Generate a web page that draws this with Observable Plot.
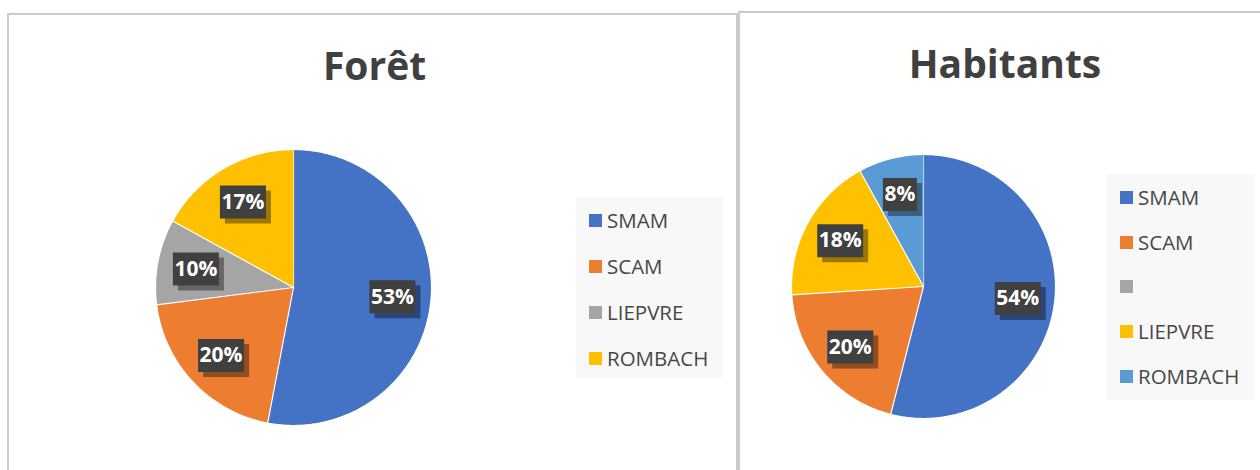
<!DOCTYPE html>
<html><head><meta charset="utf-8">
<script src="https://cdn.jsdelivr.net/npm/d3@7"></script>
<script src="https://cdn.jsdelivr.net/npm/@observablehq/plot@0.6"></script>
<style>
html,body{margin:0;padding:0;background:#fff;}
#page{position:relative;width:1260px;height:470px;overflow:hidden;font-family:"Open Sans",sans-serif;}
.panel{position:absolute;border:2px solid #cbcbcb;border-bottom:none;background:#fff;box-sizing:border-box;}
.title{position:absolute;font-weight:700;font-size:39px;line-height:39px;color:#404040;text-align:center;white-space:nowrap;width:400px;}
.pie{position:absolute;}
.legend{position:absolute;background:#f8f8f8;box-sizing:border-box;}
.item{display:flex;align-items:center;font-size:20.5px;color:#474747;white-space:nowrap;}
.sw{width:13px;height:13px;margin-left:13px;margin-right:5px;flex:none;}
</style></head><body><div id="page"></div>
<script>
// ---- data ----
const forestTitle = "Forêt";
const forestCategories = ["SMAM", "SCAM", "LIEPVRE", "ROMBACH"];
const forestValues = [53, 20, 10, 17];
const forestColors = ["#4472C4", "#ED7D31", "#A5A5A5", "#FFC000"];

const habitantsTitle = "Habitants";
const habitantsCategories = ["SMAM", "SCAM", "", "LIEPVRE", "ROMBACH"];
const habitantsValues = [54, 20, 0, 18, 8];
const habitantsColors = ["#4472C4", "#ED7D31", "#A5A5A5", "#FFC000", "#5B9BD5"];

// ---- layout ----
const page = document.getElementById("page");
const panels = [
  {left: 7, top: 13, width: 731, height: 480},
  {left: 738, top: 11, width: 560, height: 480}
];
for (const p of panels) {
  const d = document.createElement("div");
  d.className = "panel";
  Object.assign(d.style, {left: p.left + "px", top: p.top + "px", width: p.width + "px", height: p.height + "px"});
  page.appendChild(d);
}

const charts = [
  {title: forestTitle, categories: forestCategories, values: forestValues, colors: forestColors,
   cx: 292.5, cy: 287, r: 138, titleX: 374.5, titleTop: 44.5,
   legend: {left: 576, top: 197, width: 147, height: 181, step: 46, pad: 0}},
  {title: habitantsTitle, categories: habitantsCategories, values: habitantsValues, colors: habitantsColors,
   cx: 923, cy: 286, r: 132, titleX: 1005, titleTop: 42.5,
   legend: {left: 1107, top: 174, width: 147, height: 226, step: 44.7, pad: 1}}
];

function boxSymbol(w, h) {
  return {draw(ctx) {
    ctx.moveTo(-w / 2, -h / 2); ctx.lineTo(w / 2, -h / 2);
    ctx.lineTo(w / 2, h / 2); ctx.lineTo(-w / 2, h / 2); ctx.closePath();
  }};
}

for (const c of charts) {
  // title
  const t = document.createElement("div");
  t.className = "title";
  t.textContent = c.title;
  t.style.left = (c.titleX - 200) + "px";
  t.style.top = c.titleTop + "px";
  page.appendChild(t);

  const rows = c.categories.map((category, i) => ({category, value: c.values[i]}));
  const arcs = d3.pie().sort(null).value(d => d.value)(rows).filter(a => a.data.value > 0);
  const pts = arcs.flatMap(a => {
    const n = Math.max(4, Math.ceil((a.endAngle - a.startAngle) / 0.01));
    const arr = [{category: a.data.category, x: 0, y: 0}];
    for (let k = 0; k <= n; k++) {
      const ang = a.startAngle + (a.endAngle - a.startAngle) * k / n;
      arr.push({category: a.data.category, x: Math.sin(ang), y: Math.cos(ang)});
    }
    return arr;
  });
  const labels = arcs.map(a => {
    const m = (a.startAngle + a.endAngle) / 2;
    return {category: a.data.category, label: `${a.data.value}%`, x: 0.72 * Math.sin(m), y: 0.72 * Math.cos(m)};
  });
  const lengths = [...new Set(labels.map(d => d.label.length))];
  const m = 12;
  const size = 2 * c.r + 2 * m;
  const boxMarks = lengths.flatMap(n => {
    const sym = boxSymbol(12 * n + 10, 33);
    const sub = labels.filter(d => d.label.length === n);
    return [
      Plot.dot(sub, {x: "x", y: "y", symbol: sym, r: 10, fill: "black", fillOpacity: 0.38, stroke: "none", dx: 5, dy: 5}),
      Plot.dot(sub, {x: "x", y: "y", symbol: sym, r: 10, fill: "#404040", stroke: "none"})
    ];
  });
  const plot = Plot.plot({
    width: size, height: size, margin: m,
    x: {domain: [-1, 1], axis: null},
    y: {domain: [-1, 1], axis: null},
    color: {domain: c.categories, range: c.colors},
    style: {background: "transparent", overflow: "visible"},
    marks: [
      Plot.line(pts, {x: "x", y: "y", z: "category", fill: "category", stroke: "white", strokeWidth: 1.2, strokeLinejoin: "round"}),
      ...boxMarks,
      Plot.text(labels, {x: "x", y: "y", text: "label", fill: "white", fontWeight: 700, fontSize: 21, fontFamily: "Open Sans"})
    ]
  });
  plot.classList.add("pie");
  plot.style.left = (c.cx - c.r - m) + "px";
  plot.style.top = (c.cy - c.r - m) + "px";
  plot.style.position = "absolute";
  page.appendChild(plot);

  // legend built from the plot's color scale
  const sc = plot.scale("color");
  const lg = document.createElement("div");
  lg.className = "legend";
  Object.assign(lg.style, {left: c.legend.left + "px", top: c.legend.top + "px", width: c.legend.width + "px", height: c.legend.height + "px", paddingTop: c.legend.pad + "px"});
  sc.domain.forEach((cat, i) => {
    const it = document.createElement("div");
    it.className = "item";
    it.style.height = c.legend.step + "px";
    const sw = document.createElement("span");
    sw.className = "sw";
    sw.style.background = sc.range[i];
    const tx = document.createElement("span");
    tx.textContent = cat;
    it.appendChild(sw); it.appendChild(tx);
    lg.appendChild(it);
  });
  page.appendChild(lg);
}
</script></body></html>
